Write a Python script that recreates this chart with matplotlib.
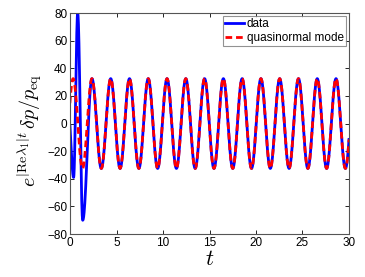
import numpy as np
import matplotlib
matplotlib.use("Agg")
import matplotlib.pyplot as plt

# Extrema of the curves (time, value); curves are drawn
# as smooth half-cosine arcs between consecutive extrema.
qnm_t = [-0.68, 0.33, 1.34, 2.35, 3.36, 4.37, 5.38, 6.39, 7.40, 8.41, 9.42,
         10.43, 11.44, 12.45, 13.46, 14.47, 15.48, 16.49, 17.50, 18.51, 19.52,
         20.53, 21.54, 22.55, 23.56, 24.57, 25.58, 26.59, 27.60, 28.61, 29.62, 30.63]
qnm_v = [-32.5, 32.5, -32.5, 32.5, -32.5, 32.5, -32.5, 32.5, -32.5, 32.5, -32.5,
         32.5, -32.5, 32.5, -32.5, 32.5, -32.5, 32.5, -32.5, 32.5, -32.5,
         32.5, -32.5, 32.5, -32.5, 32.5, -32.5, 32.5, -32.5, 32.5, -32.5, 32.5]

data_t = [-0.2, 0.38, 0.82, 1.36, 2.35, 3.36, 4.37, 5.38, 6.39, 7.40, 8.41, 9.42,
          10.43, 11.44, 12.45, 13.46, 14.47, 15.48, 16.49, 17.50, 18.51, 19.52,
          20.53, 21.54, 22.55, 23.56, 24.57, 25.58, 26.59, 27.60, 28.61, 29.62, 30.63]
data_v = [10.0, -39.0, 80.0, -70.0, 32.5, -32.5, 32.5, -32.5, 32.5, -32.5, 32.5, -32.5,
          32.5, -32.5, 32.5, -32.5, 32.5, -32.5, 32.5, -32.5, 32.5, -32.5,
          32.5, -32.5, 32.5, -32.5, 32.5, -32.5, 32.5, -32.5, 32.5, -32.5, 32.5]

x_ticks = [0, 5, 10, 15, 20, 25, 30]
y_ticks = [-80, -60, -40, -20, 0, 20, 40, 60, 80]


def smooth(ts, vs, n=40):
    xx, yy = [], []
    for i in range(len(ts) - 1):
        t0, t1, v0, v1 = ts[i], ts[i + 1], vs[i], vs[i + 1]
        s = np.linspace(0, 1, n, endpoint=(i == len(ts) - 2))
        xx.append(t0 + (t1 - t0) * s)
        yy.append(v0 + (v1 - v0) * (1 - np.cos(np.pi * s)) / 2)
    return np.concatenate(xx), np.concatenate(yy)


plt.rcParams['font.family'] = ['Liberation Sans', 'DejaVu Sans']
plt.rcParams['mathtext.fontset'] = 'cm'

fig = plt.figure(figsize=(3.65, 2.77), dpi=100)
ax = fig.add_axes([0.192, 0.155, 0.764, 0.798])

dx, dy = smooth(data_t, data_v)
qx, qy = smooth(qnm_t, qnm_v)
ax.plot(dx, dy, color='#0000ff', lw=2.0, label='data')
ax.plot(qx, qy, color='#ff0000', lw=2.0, ls=(0, (2.4, 1.4)), label='quasinormal mode')

ax.set_xlim(0, 30)
ax.set_ylim(-80, 80)
ax.set_xticks(x_ticks)
ax.set_yticks(y_ticks)
ax.set_yticklabels(['\u221280', '\u221260', '\u221240', '\u221220', '0', '20', '40', '60', '80'])
ax.tick_params(direction='in', top=True, right=True, length=3, width=0.6,
               labelsize=8.5, pad=2, colors='#000000')
for s in ax.spines.values():
    s.set_linewidth(0.8)
    s.set_color('#555555')

ax.set_xlabel(r'$t$', fontsize=16, labelpad=0)
ax.set_ylabel(r'$e^{|\mathrm{Re}\lambda_1|t}\,\delta p/p_{\mathrm{eq}}$', fontsize=14.5)
ax.yaxis.set_label_coords(-0.095, 0.47)

leg = ax.legend(loc='upper right', fontsize=8.5, frameon=True, fancybox=False,
                handlelength=1.6, handletextpad=0.2, borderpad=0.2, labelspacing=0.15,
                borderaxespad=0.25, edgecolor='#777777')
leg.get_frame().set_linewidth(0.8)

fig.savefig('out.png', dpi=100)
